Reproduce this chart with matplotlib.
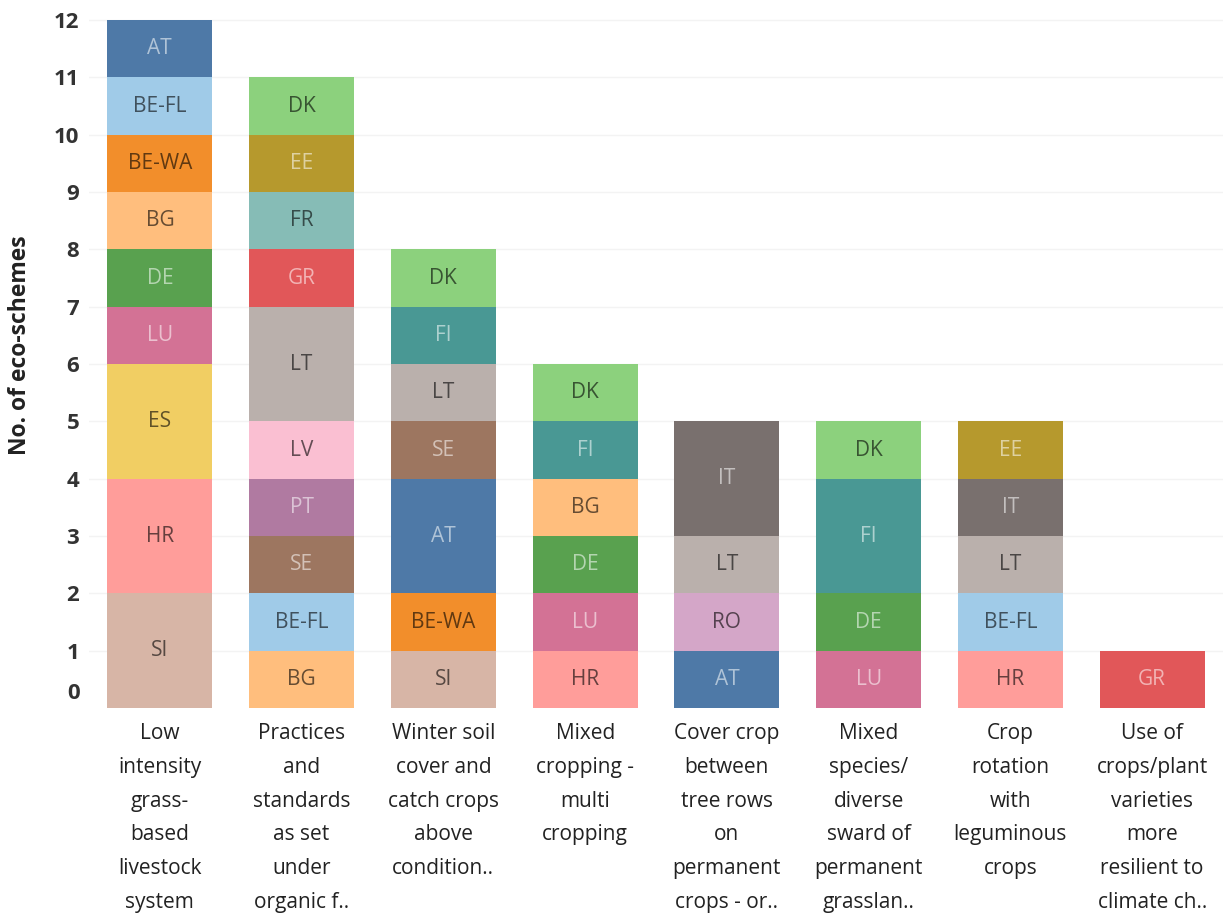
import numpy as np
import matplotlib
matplotlib.use("Agg")
import matplotlib.pyplot as plt
import matplotlib.colors as mcolors
import matplotlib.transforms as mtransforms

plt.rcParams['font.family'] = ['Open Sans', 'DejaVu Sans']

# data: one entry per eco-scheme, countries listed bottom to top
categories = [
    "Low\nintensity\ngrass-\nbased\nlivestock\nsystem",
    "Practices\nand\nstandards\nas set\nunder\norganic f..",
    "Winter soil\ncover and\ncatch crops\nabove\ncondition..",
    "Mixed\ncropping -\nmulti\ncropping",
    "Cover crop\nbetween\ntree rows\non\npermanent\ncrops - or..",
    "Mixed\nspecies/\ndiverse\nsward of\npermanent\ngrasslan..",
    "Crop\nrotation\nwith\nleguminous\ncrops",
    "Use of\ncrops/plant\nvarieties\nmore\nresilient to\nclimate ch..",
]
countries = [
    ["SI", "HR", "ES", "LU", "DE", "BG", "BE-WA", "BE-FL", "AT"],
    ["BG", "BE-FL", "SE", "PT", "LV", "LT", "GR", "FR", "EE", "DK"],
    ["SI", "BE-WA", "AT", "SE", "LT", "FI", "DK"],
    ["HR", "LU", "DE", "BG", "FI", "DK"],
    ["AT", "RO", "LT", "IT"],
    ["LU", "DE", "FI", "DK"],
    ["HR", "BE-FL", "LT", "IT", "EE"],
    ["GR"],
]
counts = [
    [2, 2, 2, 1, 1, 1, 1, 1, 1],
    [1, 1, 1, 1, 1, 2, 1, 1, 1, 1],
    [1, 1, 2, 1, 1, 1, 1],
    [1, 1, 1, 1, 1, 1],
    [1, 1, 1, 2],
    [1, 1, 2, 1],
    [1, 1, 1, 1, 1],
    [1],
]
palette = {
    "AT": "#4E79A7", "BE-FL": "#A0CBE8", "BE-WA": "#F28E2B", "BG": "#FFBE7D",
    "DE": "#59A14F", "DK": "#8CD17D", "EE": "#B6992D", "ES": "#F1CE63",
    "FI": "#499894", "FR": "#86BCB6", "GR": "#E15759", "HR": "#FF9D9A",
    "IT": "#79706E", "LT": "#BAB0AC", "LU": "#D37295", "LV": "#FABFD2",
    "PT": "#B07AA1", "RO": "#D4A6C8", "SE": "#9D7660", "SI": "#D7B5A6",
}


def text_color(c):
    rgb = np.array(mcolors.to_rgb(c))
    lum = 0.299 * rgb[0] + 0.587 * rgb[1] + 0.114 * rgb[2]
    if lum < 0.6:
        return tuple(rgb + (1 - rgb) * 0.55)
    return tuple(rgb * 0.4)


fig = plt.figure(figsize=(12.24, 9.13), dpi=100)
ax = fig.add_axes([0.0727, 0.2245, 0.9265, 0.763])

for i, (cs, ns) in enumerate(zip(countries, counts)):
    bottom = 0
    for c, n in zip(cs, ns):
        ax.bar(i, n, bottom=bottom, width=0.74, color=palette[c], linewidth=0)
        ax.text(i, bottom + n / 2, c, ha='center', va='center', fontsize=15,
                color=text_color(palette[c]))
        bottom += n

ax.set_xlim(-0.5, len(categories) - 0.5)
ax.set_ylim(0, 12.15)
ax.set_yticks(range(1, 13))
ax.set_yticklabels([str(v) for v in range(1, 13)], fontsize=16, fontweight='bold',
                   color='#333333')
ax.text(0, 0, "0", transform=mtransforms.blended_transform_factory(ax.transAxes, ax.transData)
        + mtransforms.ScaledTranslation(-0.09, 0.04, fig.dpi_scale_trans),
        ha='right', va='bottom', fontsize=16, fontweight='bold', color='#333333')
ax.tick_params(axis='y', length=0, pad=7)
ax.set_xticks(range(len(categories)))
ax.set_xticklabels(categories, fontsize=15, color='#222222', linespacing=1.79,
                   va='top')
ax.tick_params(axis='x', length=0, pad=11)

ax.yaxis.grid(True, color='#f3f3f3', linewidth=1)
ax.set_axisbelow(True)
for s in ax.spines.values():
    s.set_visible(False)

fig.text(0.0165, 0.622, "No. of eco-schemes", rotation=90, ha='center', va='center',
         fontsize=16.5, fontweight='bold', color='#222222')

fig.savefig("out.png", dpi=100, facecolor='white')
